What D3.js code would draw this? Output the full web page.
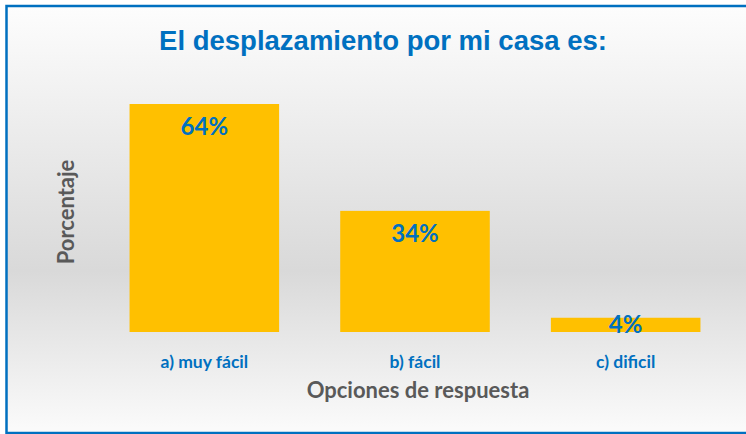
<!DOCTYPE html>
<html>
<head>
<meta charset="UTF-8">
<script src="https://d3js.org/d3.v7.min.js"></script>
<style>
  body { margin: 0; background: #fff; }
</style>
</head>
<body>
<div id="chart"></div>
<script>
// chart data
var categories = ["a) muy fácil", "b) fácil", "c) dificil"];
var values = [64, 34, 4];
var valueLabels = ["64%", "34%", "4%"];

var W = 746, H = 434;
var svg = d3.select("#chart").append("svg")
  .attr("width", W).attr("height", H);

// background gradient (light - gray - light)
var grad = svg.append("defs").append("linearGradient")
  .attr("id", "bg").attr("x1", 0).attr("y1", 0).attr("x2", 0).attr("y2", 1);
grad.append("stop").attr("offset", "0%").attr("stop-color", "#fdfdfd");
grad.append("stop").attr("offset", "62%").attr("stop-color", "#d9d9d9");
grad.append("stop").attr("offset", "100%").attr("stop-color", "#fbfbfb");

svg.append("rect").attr("x", 0).attr("y", 0).attr("width", W).attr("height", H).attr("fill", "#fff");
svg.append("rect")
  .attr("x", 6.5).attr("y", 6)
  .attr("width", W).attr("height", 427)
  .attr("fill", "url(#bg)")
  .attr("stroke", "#0070c0").attr("stroke-width", 2.5);

var x = d3.scaleBand()
  .domain(categories)
  .range([99, 731])
  .paddingInner(0.29)
  .paddingOuter(0.145);

var y = d3.scaleLinear()
  .domain([0, 70])
  .range([332, 332 - 70 * 3.5625]);

var g = svg.append("g");

g.selectAll("rect.bar")
  .data(values)
  .enter().append("rect")
  .attr("class", "bar")
  .attr("x", function(d, i) { return x(categories[i]); })
  .attr("y", function(d) { return y(d); })
  .attr("width", x.bandwidth())
  .attr("height", function(d) { return y(0) - y(d); })
  .attr("fill", "#ffc000");

g.selectAll("text.val")
  .data(values)
  .enter().append("text")
  .attr("class", "val")
  .attr("x", function(d, i) { return x(categories[i]) + x.bandwidth() / 2; })
  .attr("y", function(d) { return Math.min(y(d) + 31, y(0) + 1); })
  .attr("text-anchor", "middle")
  .style("font-family", "Lato, sans-serif")
  .style("font-weight", "bold")
  .style("font-size", "24px")
  .style("fill", "#0070c0")
  .text(function(d, i) { return valueLabels[i]; });

// category axis
var xAxis = d3.axisBottom(x).tickSize(0).tickPadding(0);
var ax = svg.append("g")
  .attr("transform", "translate(0,352)")
  .call(xAxis);
ax.select(".domain").remove();
ax.selectAll("text")
  .attr("dy", "0.9em")
  .style("font-family", "Lato, sans-serif")
  .style("font-weight", "bold")
  .style("font-size", "17.5px")
  .style("fill", "#0070c0");

// title
svg.append("text")
  .attr("x", 383).attr("y", 50)
  .attr("text-anchor", "middle")
  .style("font-family", "'Liberation Sans', Arial, sans-serif")
  .style("font-weight", "bold")
  .style("font-size", "27.5px")
  .style("fill", "#0070c0")
  .text("El desplazamiento por mi casa es:");

// axis titles
svg.append("text")
  .attr("x", 418).attr("y", 398)
  .attr("text-anchor", "middle")
  .style("font-family", "Lato, sans-serif")
  .style("font-weight", "bold")
  .style("font-size", "22px")
  .style("fill", "#595959")
  .text("Opciones de respuesta");

svg.append("text")
  .attr("transform", "translate(74,212) rotate(-90)")
  .attr("text-anchor", "middle")
  .style("font-family", "Lato, sans-serif")
  .style("font-weight", "bold")
  .style("font-size", "22px")
  .style("fill", "#595959")
  .text("Porcentaje");
</script>
</body>
</html>
